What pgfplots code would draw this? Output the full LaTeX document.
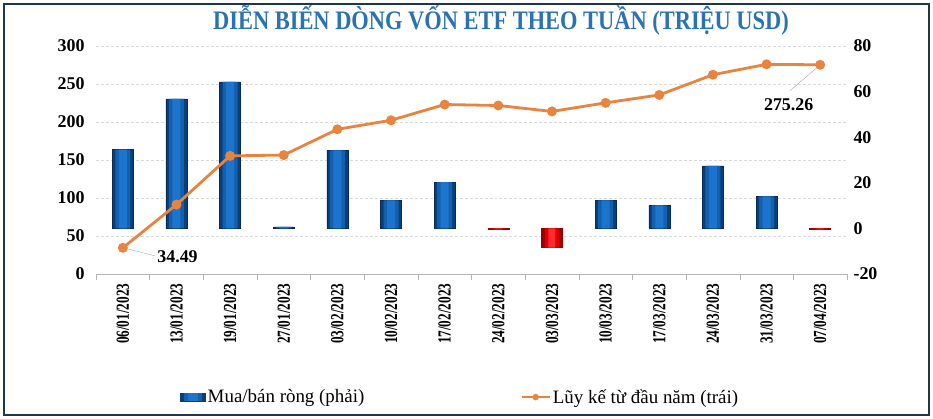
\documentclass[border=0pt]{standalone}
\usepackage{pgfplots}
\pgfplotsset{compat=1.18}
\usepackage{pgfplotstable}
\usepackage{fontspec}
\setmainfont{Liberation Serif}
\newfontfamily\titlefont[FakeStretch=0.84]{Liberation Serif}
\newfontfamily\xtfont[FakeStretch=0.72]{Liberation Serif}
\definecolor{bA}{HTML}{0B3F7A}
\definecolor{bB}{HTML}{1260AE}
\definecolor{bC}{HTML}{1C74CC}
\definecolor{rA}{HTML}{9A0000}
\definecolor{rB}{HTML}{DD0000}
\definecolor{rC}{HTML}{FF2A2A}
\definecolor{lineor}{HTML}{E8843F}
\definecolor{titleblue}{HTML}{2A72B5}
\definecolor{framec}{HTML}{1F3550}

\pgfplotstableread{
x net
0 34.6
1 56.8
2 64.3
3 0.7
4 34.2
5 12.3
6 20.3
9 12.3
10 10.1
11 27.4
12 14.0
}\posdata
\pgfplotstableread{
x net
7 -0.4
8 -8.4
13 -0.4
}\negdata
\pgfplotstableread{
x cum
0 34.49
1 91.3
2 155.4
3 156.5
4 190.4
5 202.3
6 223.0
7 221.7
8 213.9
9 225.2
10 235.6
11 262.2
12 275.9
13 275.26
}\cumdata

\pgfplotsset{base/.style={at={(96bp,145bp)}, anchor=south west, scale only axis,
  width=751bp, height=228bp, xmin=-0.5, xmax=13.5, clip=false,
  /pgf/number format/assume math mode=true}}

\begin{document}
\begin{tikzpicture}
\path[use as bounding box] (0,0) rectangle (933bp,419bp);
\fill[white] (0,0) rectangle (933bp,419bp);
\draw[framec, line width=1.5bp] (4bp,4bp) rectangle (929bp,415bp);
\node[font=\titlefont\bfseries\fontsize{26.8}{26.8}\selectfont, text=titleblue] at (501bp,399bp) {DIỄN BIẾN DÒNG VỐN ETF THEO TUẦN (TRIỆU USD)};

% Axis A: left scale, grid, x labels
\begin{axis}[base,
  ymin=0, ymax=300, ytick={0,50,...,300},
  axis x line*=bottom, axis y line*=left,
  y axis line style={draw=none},
  x axis line style={draw=gray!60, thin, -},
  ytick style={draw=none},
  xtick={0,...,13},
  xticklabels={06/01/2023,13/01/2023,19/01/2023,27/01/2023,03/02/2023,10/02/2023,17/02/2023,24/02/2023,03/03/2023,10/03/2023,17/03/2023,24/03/2023,31/03/2023,07/04/2023},
  major x tick style={draw=none},
  xticklabel style={rotate=90, anchor=east, font=\xtfont\bfseries\fontsize{18.5}{18.5}\selectfont, xshift=-6bp},
  yticklabel style={font=\bfseries\fontsize{18}{18}\selectfont, xshift=-8bp},
  ymajorgrids, grid style={densely dashed, gray!30},
  extra x ticks={-0.5,0.5,...,13.5},
  extra x tick labels={},
  extra x tick style={grid=none, major tick length=6bp, tick align=outside, major x tick style={draw=gray!60, thin}},
]
\addplot[draw=none] coordinates {(0,0)};
\end{axis}

% Axis B: right scale, bars, legend
\begin{axis}[base,
  ymin=-20, ymax=80, ytick={-20,0,...,80},
  axis y line*=right, axis x line=none,
  y axis line style={draw=none},
  ytick style={draw=none},
  yticklabel style={font=\bfseries\fontsize{18}{18}\selectfont, xshift=3bp},
  ybar,
  legend style={at={(0.485,-0.54)}, anchor=center, draw=none, fill=none,
    legend columns=2, font=\fontsize{19}{19}\selectfont,
    /tikz/every even column/.append style={column sep=154bp}},
  legend cell align=left,
]
\addplot[bar shift=0pt, bar width=21bp, draw=bA!70!black, line width=0.4bp, fill=bA,
  legend image code/.code={\fill[bA] (0bp,-4bp) rectangle (25bp,4bp); \fill[bB] (4bp,-3.5bp) rectangle (21bp,3.5bp); \fill[bC] (8bp,-3.5bp) rectangle (17bp,3.5bp);}]
  table[x=x, y=net] {\posdata};
\addlegendentry{Mua/bán ròng (phải)}
\addplot[bar shift=0pt, bar width=15bp, draw=none, fill=bB, forget plot] table[x=x, y=net] {\posdata};
\addplot[bar shift=0pt, bar width=8bp, draw=none, fill=bC, forget plot] table[x=x, y=net] {\posdata};
\addplot[bar shift=0pt, bar width=21bp, forget plot, draw=rA, line width=0.4bp, fill=rA] table[x=x, y=net] {\negdata};
\addplot[bar shift=0pt, bar width=14bp, forget plot, draw=none, fill=rB] table[x=x, y=net] {\negdata};
\addplot[bar shift=0pt, bar width=7bp, forget plot, draw=none, fill=rC] table[x=x, y=net] {\negdata};
\addlegendimage{legend image code/.code={\draw[lineor, line width=2.5bp](0bp,0bp)--(28bp,0bp); \fill[lineor](14bp,0bp) circle (3bp);}}
\addlegendentry{Lũy kế từ đầu năm (trái)}
\end{axis}

% Axis C: line on left scale
\begin{axis}[base, ymin=0, ymax=300, hide axis]
\addplot[lineor, line width=2.8bp, mark=*, mark size=3.5bp, mark options={fill=lineor, draw=lineor}]
  table[x=x, y=cum] {\cumdata};
\draw[gray!70, thin] (axis cs:0,34.49) -- (axis cs:0.6,23.9);
\node[anchor=west, inner sep=0pt, font=\bfseries\fontsize{18}{18}\selectfont] at (axis cs:0.64,22.2) {34.49};
\draw[gray!70, thin] (axis cs:13,275.26) -- (axis cs:12.44,241.3);
\node[anchor=west, inner sep=0pt, font=\bfseries\fontsize{18}{18}\selectfont] at (axis cs:11.95,223) {275.26};
\end{axis}
\end{tikzpicture}
\end{document}
